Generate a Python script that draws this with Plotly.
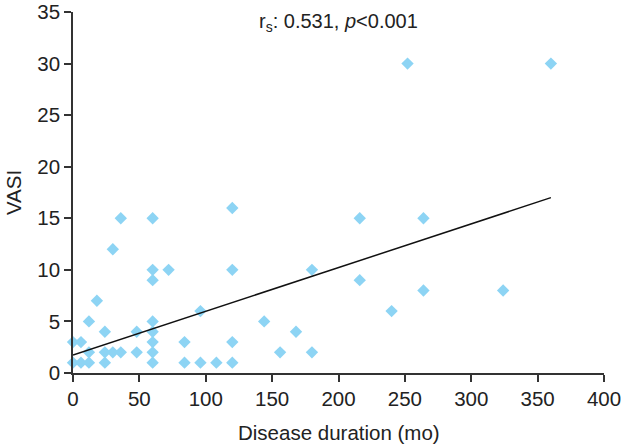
import plotly.graph_objects as go

# Data
duration_mo = [0, 6, 0, 6, 12, 12, 12, 18, 24, 24, 24, 30, 36, 48, 48,
               60, 60, 60, 60, 60, 84, 84, 96, 96, 108, 120, 120, 144, 156, 168, 180,
               36, 60, 30, 60, 72, 60, 120, 120, 216, 264, 180, 216, 264, 324, 240,
               252, 360]
vasi = [3, 3, 1, 1, 1, 2, 5, 7, 4, 2, 1, 2, 2, 4, 2,
        5, 4, 3, 2, 1, 3, 1, 6, 1, 1, 3, 1, 5, 2, 4, 2,
        15, 15, 12, 10, 10, 9, 16, 10, 15, 15, 10, 9, 8, 8, 6,
        30, 30]
fit_x = [0, 360]
fit_y = [1.75, 17.0]

x_ticks = [0, 50, 100, 150, 200, 250, 300, 350, 400]
y_ticks = [0, 5, 10, 15, 20, 25, 30, 35]

FONT = "Liberation Sans, Arial, sans-serif"
AXIS_COLOR = "#333333"
TEXT_COLOR = "#222222"
FS = 20.5

fig = go.Figure()
fig.add_trace(go.Scatter(
    x=duration_mo, y=vasi, mode="markers",
    marker=dict(symbol="diamond", size=9.5, color="#8dd4f4", line=dict(width=0)),
    cliponaxis=False, showlegend=False,
))
fig.add_trace(go.Scatter(
    x=fit_x, y=fit_y, mode="lines",
    line=dict(color="#111111", width=1.5),
    cliponaxis=False, showlegend=False,
))

fig.add_annotation(
    x=0.5, xref="paper", y=34.0, yref="y",
    text="r<sub>s</sub>: 0.531, <i>p</i><0.001",
    showarrow=False, xanchor="center", yanchor="middle",
    font=dict(family=FONT, size=20, color=TEXT_COLOR),
)
fig.add_annotation(
    x=0.5, xref="paper", y=-0.166, yref="paper",
    text="Disease duration (mo)",
    showarrow=False, xanchor="center", yanchor="middle",
    font=dict(family=FONT, size=FS, color=TEXT_COLOR),
)
fig.add_annotation(
    x=-0.112, xref="paper", y=0.5, yref="paper",
    text="VASI", textangle=-90,
    showarrow=False, xanchor="center", yanchor="middle",
    font=dict(family=FONT, size=FS, color=TEXT_COLOR),
)

fig.update_layout(
    width=622, height=444,
    margin=dict(l=73, r=18, t=12, b=71),
    paper_bgcolor="white", plot_bgcolor="white",
    font=dict(family=FONT, size=FS, color=TEXT_COLOR),
    xaxis=dict(
        range=[0, 400], tickvals=x_ticks, ticktext=[str(v) for v in x_ticks],
        showgrid=False, zeroline=False, showline=True, linecolor=AXIS_COLOR, linewidth=1.5,
        ticks="outside", ticklen=7, tickwidth=1.5, tickcolor=AXIS_COLOR,
        automargin=False, tickfont=dict(size=FS), ticklabeloverflow="allow",
    ),
    yaxis=dict(
        range=[0, 35], tickvals=y_ticks, ticktext=[str(v) for v in y_ticks],
        showgrid=False, zeroline=False, showline=True, linecolor=AXIS_COLOR, linewidth=1.5,
        ticks="outside", ticklen=7, tickwidth=1.5, tickcolor=AXIS_COLOR,
        automargin=False, tickfont=dict(size=FS), ticklabeloverflow="allow",
    ),
)

fig.write_html("out.html", config={"displayModeBar": False},
               post_script="document.body.style.margin='0';")
